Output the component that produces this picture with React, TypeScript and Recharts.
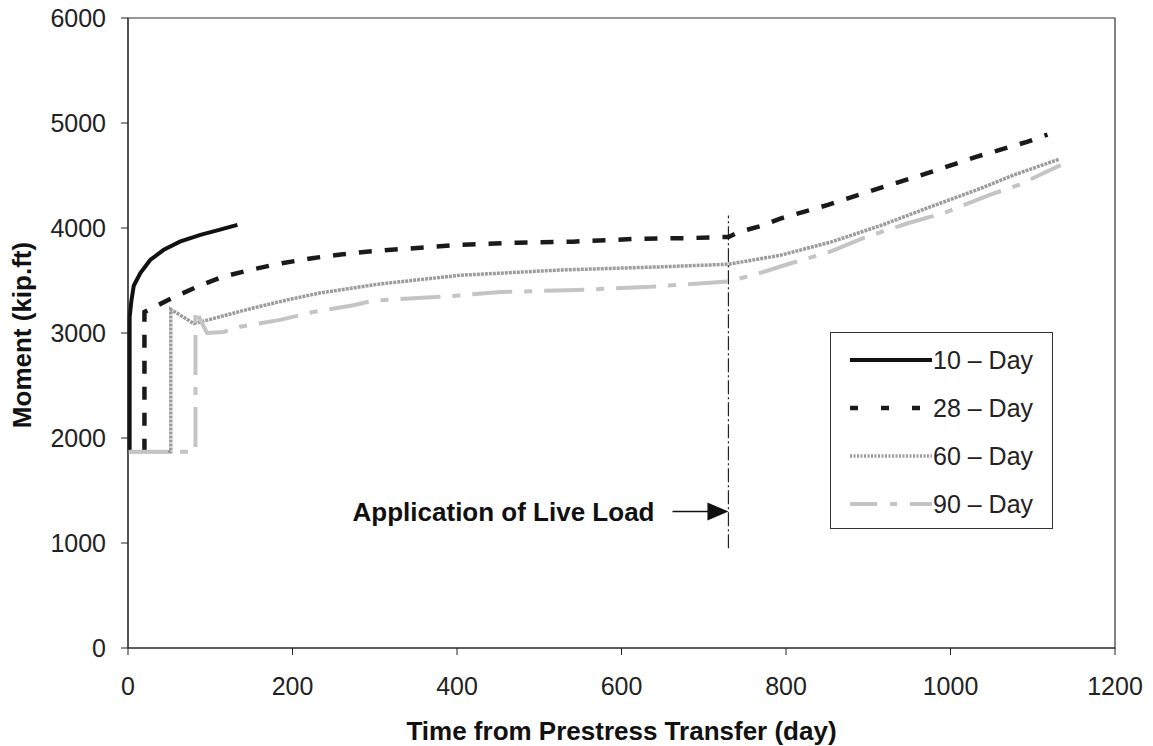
import { Label, Legend, Line, LineChart, ReferenceArea, ReferenceLine, XAxis, YAxis } from "recharts";

// moment vs. time (day, kip.ft)
const days10 = [2, 2, 4, 7, 15, 27, 43, 63, 88, 112, 133];
const moment10 = [1870, 3150, 3300, 3450, 3570, 3695, 3790, 3870, 3935, 3985, 4030];

const days28 = [20, 20, 30, 53, 84, 113, 148, 187, 226, 261, 298, 334, 404, 473, 541, 614, 687, 730, 744, 770, 793, 851, 910, 971, 1032, 1093, 1118];
const moment28 = [1870, 3200, 3240, 3330, 3440, 3530, 3600, 3665, 3715, 3750, 3780, 3800, 3840, 3860, 3870, 3895, 3905, 3915, 3965, 4020, 4090, 4220, 4370, 4520, 4680, 4820, 4890];

const days60 = [0, 52, 52, 80, 100, 112, 152, 193, 233, 274, 304, 404, 526, 648, 730, 793, 854, 914, 975, 1036, 1077, 1132];
const moment60 = [1870, 1870, 3225, 3090, 3130, 3155, 3238, 3314, 3381, 3429, 3465, 3550, 3600, 3630, 3655, 3740, 3865, 4020, 4200, 4375, 4505, 4655];

const days90 = [0, 82, 82, 96, 116, 136, 185, 225, 274, 300, 383, 453, 546, 635, 730, 767, 806, 854, 893, 948, 992, 1047, 1083, 1134];
const moment90 = [1870, 1870, 3220, 3000, 3010, 3060, 3125, 3200, 3265, 3310, 3346, 3390, 3410, 3440, 3490, 3568, 3664, 3775, 3902, 4045, 4143, 4314, 4410, 4600];

const xTicks = [0, 200, 400, 600, 800, 1000, 1200];
const yTicks = [0, 1000, 2000, 3000, 4000, 5000, 6000];

const liveLoadDay = 730;
const liveLoadSpan = [950, 4120];
const arrowFromDay = 662;
const arrowMoment = 1300;

const font = "'Liberation Sans', Arial, sans-serif";

const toPoints = (t: number[], m: number[]) => t.map((d, i) => ({ t: d, m: m[i] }));

const series = [
  { name: "10 – Day", data: toPoints(days10, moment10), stroke: "#111", width: 4, dash: undefined, legendDash: undefined },
  { name: "28 – Day", data: toPoints(days28, moment28), stroke: "#1a1a1a", width: 4.5, dash: "13 13", legendDash: "8 23" },
  { name: "60 – Day", data: toPoints(days60, moment60), stroke: "#9c9c9c", width: 3.5, dash: "3 1", legendDash: "2 1.5" },
  { name: "90 – Day", data: toPoints(days90, moment90), stroke: "#c4c4c4", width: 4, dash: "40 12 8 12", legendDash: "27 13 7 13" },
];

function LiveLoadArrow(props: any) {
  const { x1, y1, x2, y2 } = props;
  return (
    <g>
      <text x={x1 - 18} y={y1} textAnchor="end" dominantBaseline="central" fontFamily={font} fontWeight="bold" fontSize={26} fill="#111">
        Application of Live Load
      </text>
      <line x1={x1} y1={y1} x2={x2 - 20} y2={y2} stroke="#111" strokeWidth={1.5} />
      <polygon points={`${x2},${y2} ${x2 - 21},${y2 - 9} ${x2 - 21},${y2 + 9}`} fill="#111" />
    </g>
  );
}

function LegendBox(props: any) {
  const { payload = [] } = props;
  return (
    <div style={{ width: 223, height: 197, boxSizing: "border-box", border: "1.5px solid #333", background: "#fff", paddingTop: 3 }}>
      {payload.map((entry: any) => {
        const s = series.find((x) => x.name === entry.value);
        if (!s) return null;
        return (
          <div key={s.name} style={{ height: 48, display: "flex", alignItems: "center", paddingLeft: 19 }}>
            <svg width={82} height={12}>
              <line x1={0} y1={6} x2={82} y2={6} stroke={s.stroke} strokeWidth={s.width} strokeDasharray={s.legendDash} />
            </svg>
            <span style={{ fontFamily: font, fontSize: 25, color: "#222", marginLeft: 1 }}>{s.name}</span>
          </div>
        );
      })}
    </div>
  );
}

export default function App() {
  return (
    <div style={{ position: "absolute", left: 0, top: 0, background: "#fff" }}>
      <LineChart width={1153} height={746} margin={{ top: 18, right: 38, left: 0, bottom: 0 }}>
        <XAxis
          type="number"
          dataKey="t"
          domain={[0, 1200]}
          ticks={xTicks}
          height={98}
          tickSize={7}
          tickMargin={22}
          stroke="#222"
          tick={{ fontSize: 25, fill: "#222", fontFamily: font }}
        >
          <Label
            content={({ viewBox }: any) => (
              <text x={viewBox.x + viewBox.width / 2} y={viewBox.y + viewBox.height - 6} textAnchor="middle" fontFamily={font} fontWeight="bold" fontSize={26} fill="#111">
                Time from Prestress Transfer (day)
              </text>
            )}
          />
        </XAxis>
        <YAxis
          type="number"
          domain={[0, 6000]}
          ticks={yTicks}
          width={128}
          tickSize={7}
          tickMargin={15}
          stroke="#222"
          tick={{ fontSize: 25, fill: "#222", fontFamily: font }}
        >
          <Label
            content={({ viewBox }: any) => {
              const cx = viewBox.x + 22;
              const cy = viewBox.y + viewBox.height / 2 + 2;
              return (
                <text x={cx} y={cy} transform={`rotate(-90 ${cx} ${cy})`} textAnchor="middle" dominantBaseline="central" fontFamily={font} fontWeight="bold" fontSize={26} fill="#111">
                  Moment (kip.ft)
                </text>
              );
            }}
          />
        </YAxis>
        <ReferenceArea x1={0} x2={1200} y1={0} y2={6000} fill="none" stroke="#333" strokeWidth={1.2} />
        <ReferenceLine
          segment={[{ x: liveLoadDay, y: liveLoadSpan[0] }, { x: liveLoadDay, y: liveLoadSpan[1] }]}
          stroke="#222"
          strokeWidth={1.2}
          strokeDasharray="14 3 2 3"
        />
        <ReferenceLine
          segment={[{ x: arrowFromDay, y: arrowMoment }, { x: liveLoadDay, y: arrowMoment }]}
          shape={LiveLoadArrow}
        />
        {series.map((s) => (
          <Line
            key={s.name}
            name={s.name}
            data={s.data}
            dataKey="m"
            type="linear"
            stroke={s.stroke}
            strokeWidth={s.width}
            strokeDasharray={s.dash}
            dot={false}
            activeDot={false}
            isAnimationActive={false}
          />
        ))}
        <Legend
          layout="vertical"
          align="center"
          verticalAlign="middle"
          content={LegendBox}
          wrapperStyle={{ left: 830, top: 332, width: 223, height: 197 }}
        />
      </LineChart>
    </div>
  );
}
